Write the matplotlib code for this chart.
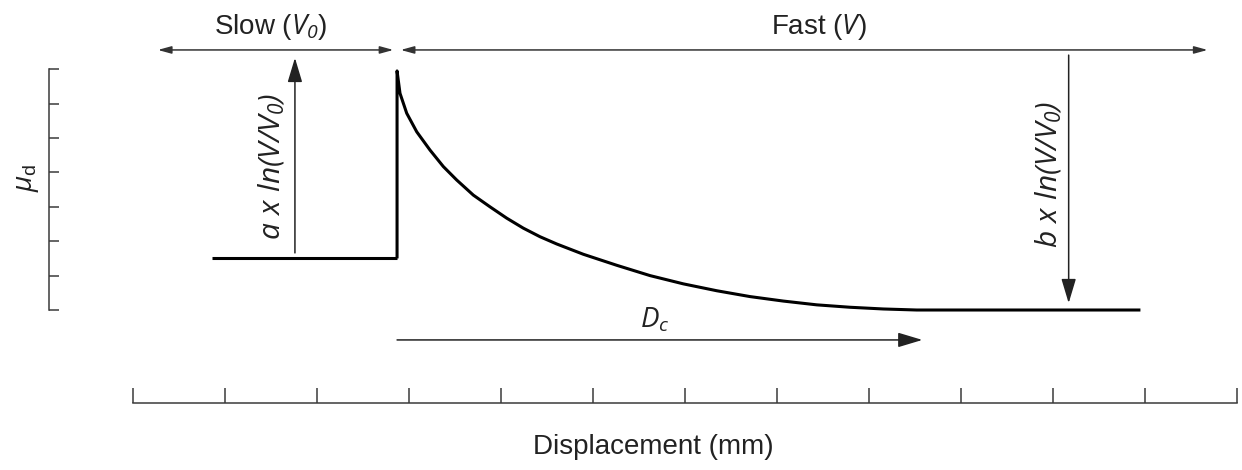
import numpy as np
import matplotlib
matplotlib.use("Agg")
import matplotlib.pyplot as plt

plt.rcParams['font.family'] = ['Liberation Sans', 'DejaVu Sans']
plt.rcParams['mathtext.fontset'] = 'custom'
plt.rcParams['mathtext.it'] = 'Open Sans:italic'
plt.rcParams['mathtext.rm'] = 'Open Sans:italic'
plt.rcParams['mathtext.sf'] = 'Liberation Sans'

# friction response to a velocity step (displacement in tick units, mu in tick units)
slow_disp = [0.86, 2.87]
slow_mu = [1.5, 1.5]
fast_disp = [2.87, 2.87, 2.902, 2.975, 3.084, 3.228, 3.373, 3.518, 3.699, 3.880,
             4.062, 4.242, 4.424, 4.605, 4.895, 5.258, 5.620, 5.982, 6.345, 6.707,
             7.068, 7.432, 7.793, 8.155, 8.518, 10.95]
fast_mu = [1.5, 6.95, 6.30, 5.72, 5.18, 4.65, 4.17, 3.78, 3.34, 3.00,
           2.67, 2.38, 2.13, 1.92, 1.62, 1.30, 1.00, 0.76, 0.56, 0.39,
           0.26, 0.15, 0.08, 0.03, 0.0, 0.0]

x_ticks = np.arange(0, 13)
y_ticks = np.arange(0, 8)

# step arrows
a_arrow_x, a_arrow_y = 1.76, (1.66, 7.33)
b_arrow_x, b_arrow_y = 10.17, (7.41, 0.20)
dc_arrow_y, dc_arrow_x = -0.87, (2.87, 8.58)
band_y = 7.56
slow_band = (0.27, 2.83)
fast_band = (2.91, 11.68)

fig = plt.figure(figsize=(12.42, 4.70), dpi=100)
ax = fig.add_axes([0, 0, 1, 1])
ax.set_xlim(-1.4457, 12.054)
ax.set_ylim(-4.651, 9.012)
ax.patch.set_visible(False)

axis_col = '#3a3a3a'
ax.spines['top'].set_visible(False)
ax.spines['right'].set_visible(False)
ax.spines['left'].set_position(('data', -0.913))
ax.spines['bottom'].set_position(('data', -2.70))
ax.spines['left'].set_bounds(0, 7)
ax.spines['bottom'].set_bounds(0, 12)
for s in ('left', 'bottom'):
    ax.spines[s].set_color(axis_col)
    ax.spines[s].set_linewidth(1.1)
ax.set_xticks(x_ticks)
ax.set_yticks(y_ticks)
ax.tick_params(axis='x', direction='in', length=10.5, width=1.1, color=axis_col,
               labelbottom=False)
ax.tick_params(axis='y', direction='in', length=7, width=1.1, color=axis_col,
               labelleft=False)

ax.plot(slow_disp, slow_mu, color='black', lw=2.2, solid_capstyle='butt')
ax.plot(fast_disp, fast_mu, color='black', lw=2.2, solid_joinstyle='round',
        solid_capstyle='butt')

small = dict(arrowstyle='<|-|>,head_length=0.8,head_width=0.22', color='#333333',
             lw=1.1, shrinkA=0, shrinkB=0, mutation_scale=10)
big = dict(arrowstyle='-|>,head_length=1.5,head_width=0.45', color='#222222',
           lw=1.1, shrinkA=0, shrinkB=0, mutation_scale=10)

ax.annotate('', xy=(slow_band[1], band_y), xytext=(slow_band[0], band_y), arrowprops=small)
ax.annotate('', xy=(fast_band[1], band_y), xytext=(fast_band[0], band_y), arrowprops=small)
ax.annotate('', xy=(a_arrow_x, a_arrow_y[1]), xytext=(a_arrow_x, a_arrow_y[0]), arrowprops=big)
ax.annotate('', xy=(b_arrow_x, b_arrow_y[1]), xytext=(b_arrow_x, b_arrow_y[0]), arrowprops=big)
ax.annotate('', xy=(dc_arrow_x[1], dc_arrow_y), xytext=(dc_arrow_x[0], dc_arrow_y), arrowprops=big)

lab = dict(fontsize=20, color='#222222', ha='center', va='center')
ax.text(1.50, 8.23, r'Slow ($V_0$)', **lab)
ax.text(7.46, 8.23, r'Fast ($V$)', **lab)
ax.text(5.66, -3.98, 'Displacement (mm)', **lab)
ax.text(-1.14, 3.84, r'$\mu_{\mathsf{d}}$', rotation=90, **lab)
rot = dict(lab, fontsize=21.5)
ax.text(1.51, 4.16, r'$a\ x\ ln(V/V_0)$', rotation=90, **rot)
ax.text(9.95, 3.95, r'$b\ x\ ln(V/V_0)$', rotation=90, **rot)
ax.text(5.67, -0.29, r'$D_c$', **lab)

fig.savefig('out.png', dpi=100)
